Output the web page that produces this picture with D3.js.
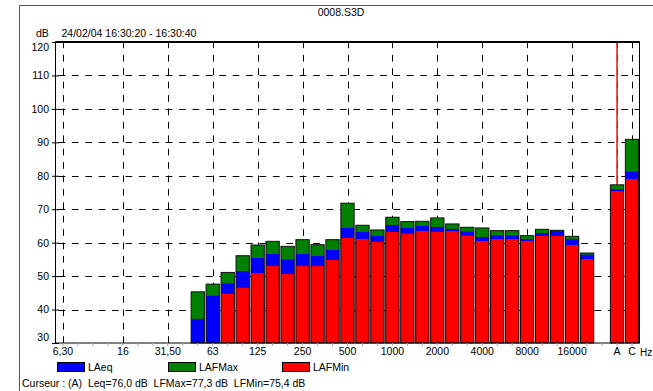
<!DOCTYPE html>
<html>
<head>
<meta charset="utf-8">
<script src="https://cdn.jsdelivr.net/npm/d3@7"></script>
<style>
  body { margin: 0; background: #fff; }
  svg { display: block; font-family: "Liberation Sans", Arial, sans-serif; font-size: 10.5px; }
</style>
</head>
<body>
<script>
// 1/3 octave bands + empty slot + A / C totals
const bands = ["6,3","8","10","12,5","16","20","25","31,5","40","50","63","80","100","125","160","200","250","315","400","500","630","800","1000","1250","1600","2000","2500","3150","4000","5000","6300","8000","10000","12500","16000","20000","","A","C"];

// tick labels under the axis (band index -> text)
const tickIdx = [0, 4, 7, 10, 13, 16, 19, 22, 25, 28, 31, 34, 37, 38];
const tickText = ["6,30","16","31,50","63","125","250","500","1000","2000","4000","8000","16000","A","C"];

// levels in dB, null = no value
const lafmax = [null,null,null,null,null,null,null,null,null,45.3,47.6,51.1,56.1,59.3,60.4,58.9,60.9,59.4,60.9,71.8,65.2,63.8,67.6,66.3,66.4,67.4,65.6,64.6,64.4,63.6,63.6,62.1,64.0,63.7,61.9,56.9,null,77.3,90.9];
const laeq   = [null,null,null,null,null,null,null,null,null,37.2,44.1,47.8,51.5,55.4,56.6,55.0,56.6,56.0,57.8,64.4,63.2,62.0,65.3,64.4,65.0,64.7,64.1,63.3,61.7,62.1,62.1,61.1,62.9,63.5,61.1,56.4,null,76.0,81.2];
const lafmin = [null,null,null,null,null,null,null,null,null,25.0,28.0,44.7,46.5,50.9,53.0,50.6,53.0,53.0,54.8,61.4,61.1,60.2,63.2,62.7,63.5,63.2,63.5,62.1,60.5,61.1,61.1,60.5,62.0,62.0,59.3,55.1,null,75.4,79.0];

const yTicks = [30, 40, 50, 60, 70, 80, 90, 100, 110, 120];

const seriesNames = ["LAeq", "LAFMax", "LAFMin"];
const seriesColors = ["#0000ff", "#008000", "#ff0000"];

const cursorBand = 37;

const width = 653;
const height = 391;

const svg = d3.select("body").append("svg")
  .attr("width", width)
  .attr("height", height);

// outer frame
svg.append("path")
  .attr("d", "M19.5," + height + "V5.5H" + width)
  .attr("fill", "none")
  .attr("stroke", "#555");

svg.append("text")
  .attr("x", 341).attr("y", 16)
  .attr("text-anchor", "middle")
  .text("0008.S3D");

svg.append("text").attr("x", 36).attr("y", 37).text("dB");
svg.append("text").attr("x", 61.5).attr("y", 37).text("24/02/04 16:30:20 - 16:30:40");

// scales
const x = d3.scaleBand()
  .domain(d3.range(bands.length))
  .range([55.5, 639.5])
  .paddingInner(0.1)
  .paddingOuter(0.05);

const y = d3.scaleLinear()
  .domain([30, 120])
  .range([343, 42]);

const cx = (i) => x(i) + x.bandwidth() / 2;
const yc = (v) => y(Math.max(30, Math.min(120, v)));

// grid
const grid = svg.append("g").attr("stroke", "#000").attr("stroke-dasharray", "6.7,6.7");

grid.selectAll(".hg")
  .data(yTicks.slice(1, -1))
  .enter().append("line")
  .attr("x1", 58.5).attr("x2", 639)
  .attr("y1", (d) => Math.round(y(d)) + 0.5)
  .attr("y2", (d) => Math.round(y(d)) + 0.5);

grid.selectAll(".vg")
  .data(tickIdx)
  .enter().append("line")
  .attr("x1", (d) => Math.round(cx(d)) + 0.5)
  .attr("x2", (d) => Math.round(cx(d)) + 0.5)
  .attr("y1", y(30)).attr("y2", y(120));

// cursor line
svg.append("line")
  .attr("x1", cx(cursorBand)).attr("x2", cx(cursorBand))
  .attr("y1", y(120)).attr("y2", y(30))
  .attr("stroke", "#ee2020")
  .attr("stroke-width", 1.6);

// bars
const idx = d3.range(bands.length).filter((i) => lafmax[i] != null);
const bw = 13.3;
const bars = svg.append("g");

[[lafmax, seriesColors[1]], [laeq, seriesColors[0]], [lafmin, seriesColors[2]]].forEach(([vals, col]) => {
  bars.selectAll(null)
    .data(idx)
    .enter().append("rect")
    .attr("x", (i) => cx(i) - bw / 2)
    .attr("width", bw)
    .attr("y", (i) => yc(vals[i]))
    .attr("height", (i) => y(30) - yc(vals[i]))
    .attr("fill", col);
});

bars.selectAll(null)
  .data(idx)
  .enter().append("rect")
  .attr("x", (i) => cx(i) - bw / 2)
  .attr("width", bw)
  .attr("y", (i) => yc(lafmax[i]))
  .attr("height", (i) => y(30) - yc(lafmax[i]))
  .attr("fill", "none")
  .attr("stroke", "#111")
  .attr("stroke-width", 1);

// plot frame
svg.append("rect")
  .attr("x", 55.5).attr("y", 42)
  .attr("width", 584).attr("height", 301)
  .attr("fill", "none")
  .attr("stroke", "#000");
svg.append("line")
  .attr("x1", 55.5).attr("x2", 639.5)
  .attr("y1", 42).attr("y2", 42)
  .attr("stroke", "#000").attr("stroke-width", 2);

// y axis
const yAxis = svg.append("g")
  .attr("transform", "translate(56,0)")
  .call(d3.axisLeft(y).tickValues(yTicks).tickSize(4).tickPadding(3));
yAxis.select(".domain").remove();
yAxis.selectAll("line").attr("x1", 3).attr("stroke", "#000");
yAxis.selectAll("text")
  .attr("font-family", "Liberation Sans, Arial, sans-serif")
  .attr("font-size", 10.5)
  .attr("fill", "#000")
  .attr("dy", (d) => d === 120 ? "0.85em" : d === 30 ? "-0.2em" : "0.32em");

// minor ticks on every band
const minor = svg.append("g")
  .attr("transform", "translate(0,343)")
  .call(d3.axisBottom(x).tickSize(3).tickFormat(""));
minor.select(".domain").remove();
minor.selectAll("line").attr("stroke", "#aaa");

// x labels
const xAxis = svg.append("g")
  .attr("transform", "translate(0,343)")
  .call(d3.axisBottom(x).tickValues(tickIdx).tickSize(0).tickPadding(5)
    .tickFormat((d) => tickText[tickIdx.indexOf(d)]));
xAxis.select(".domain").remove();
xAxis.selectAll("text")
  .attr("font-family", "Liberation Sans, Arial, sans-serif")
  .attr("font-size", 10.5)
  .attr("fill", "#000");

svg.append("text").attr("x", 640).attr("y", 356).attr("font-size", 10).text("Hz");

// legend
const legendX = [57, 168, 282];
const legend = svg.append("g");
seriesNames.forEach((name, i) => {
  legend.append("rect")
    .attr("x", legendX[i] + 0.5).attr("y", 362.5)
    .attr("width", 27).attr("height", 9)
    .attr("fill", seriesColors[i])
    .attr("stroke", "#000");
  legend.append("text")
    .attr("x", legendX[i] + 31).attr("y", 371)
    .text(name);
});

svg.append("text")
  .attr("x", 22).attr("y", 387)
  .text("Curseur : (A)  Leq=76,0 dB  LFMax=77,3 dB  LFMin=75,4 dB")
  .attr("xml:space", "preserve")
  .style("white-space", "pre");
</script>
</body>
</html>
